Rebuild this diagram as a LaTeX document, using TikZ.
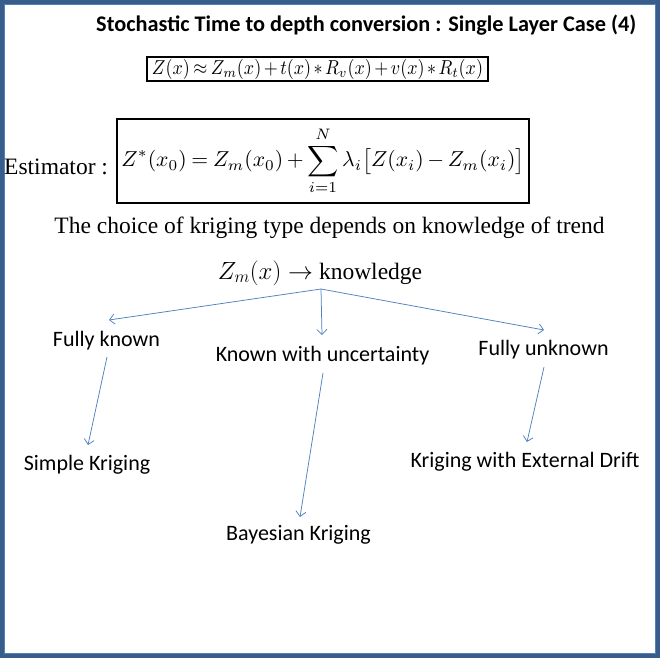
\documentclass[tikz,border=0pt]{standalone}
\usepackage{amsmath}
\usepackage{graphicx}
\usepackage{fontspec}
\setmainfont{Liberation Serif}
\newfontfamily\carlito{Carlito}
\usetikzlibrary{arrows.meta}
\definecolor{frameblue}{RGB}{56,93,138}
\definecolor{framelight}{RGB}{79,129,189}
\definecolor{arrowblue}{RGB}{79,129,189}
\tikzset{
  titlefont/.style={font=\carlito\bfseries\fontsize{22.3}{26}\selectfont, inner sep=0pt},
  lbl/.style={font=\carlito\fontsize{22}{26}\selectfont, inner sep=0pt, anchor=base},
  ser/.style={font=\fontsize{23.5}{28}\selectfont, inner sep=0pt},
  conn/.style={draw=arrowblue, line width=0.75pt, -{Straight Barb[length=5pt,width=10pt]}},
  fbox/.style={draw=black, line width=1.2pt, inner sep=0pt}
}
\begin{document}
\begin{tikzpicture}[x=1pt,y=-1pt]
\useasboundingbox (0,0) rectangle (660,658);
% frame
\draw[frameblue, line width=4pt] (2,2) rectangle (658,656);
\draw[framelight, line width=1pt] (4.5,4.5) rectangle (655.5,653.5);
% title
\node[titlefont, anchor=base west] (title) at (96,32) {Stochastic Time to depth conversion : Single Layer Case (4)};
% formula 1
\node[fbox, minimum width=341pt, minimum height=24pt] (f1) at (317.5,69)
  {\scalebox{1}[1.12]{\resizebox{331pt}{!}{$\medmuskip=2.5mu\thickmuskip=3.5mu Z(x) \approx Z_m(x) + t(x) \ast R_v(x) + v(x) \ast R_t(x)$}}};
% estimator
\node[ser, anchor=base west] (est) at (4,174) {Estimator :};
\node[fbox, minimum width=412pt, minimum height=84pt] (f2) at (323,161)
  {\resizebox{403pt}{!}{$\displaystyle \medmuskip=3mu\thickmuskip=4mu Z^{*}(x_0) = Z_m(x_0) + \sum_{i=1}^{N} \lambda_i\bigl[Z(x_i) - Z_m(x_i)\bigr]$}};
% choice text
\node[ser, anchor=base] (choice) at (329.5,233) {The choice of kriging type depends on knowledge of trend};
\node[ser, anchor=base] (know) at (320,279) {$Z_m(x) \rightarrow$ knowledge};
% labels
\node[lbl] (fk) at (106.5,346) {Fully known};
\node[lbl] (kwu) at (322.5,361) {Known with uncertainty};
\node[lbl] (fu) at (543.5,355) {Fully unknown};
\node[lbl] (sk) at (87,470) {Simple Kriging};
\node[lbl] (bk) at (298.5,540) {Bayesian Kriging};
\node[lbl] (ked) at (525,467) {Kriging with External Drift};
% connector coordinates
\coordinate (root) at (321,289);
\coordinate (fkin) at (109,320);
\coordinate (kwuin) at (322,335);
\coordinate (fuin) at (544,330);
\coordinate (fkout) at (107,357);
\coordinate (skin) at (88,445);
\coordinate (kwuout) at (323,373);
\coordinate (bkin) at (300,517);
\coordinate (fuout) at (544,367);
\coordinate (kedin) at (527,442);
\draw[conn] (root) -- (fkin);
\draw[conn] (root) -- (kwuin);
\draw[conn] (root) -- (fuin);
\draw[conn] (fkout) -- (skin);
\draw[conn] (kwuout) -- (bkin);
\draw[conn] (fuout) -- (kedin);
\end{tikzpicture}
\end{document}
